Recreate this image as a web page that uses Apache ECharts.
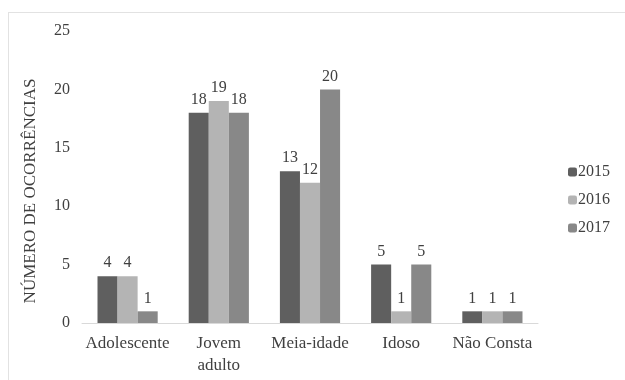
<!DOCTYPE html>
<html>
<head>
<meta charset="utf-8">
<script src="https://cdn.jsdelivr.net/npm/echarts@6/dist/echarts.min.js"></script>
<style>
  html, body { margin: 0; padding: 0; background: #fff; }
  #chart { width: 625px; height: 380px; }
  .frame { position: absolute; left: 8px; top: 12px; width: 640px; height: 400px; border: 1px solid #e2e2e2; box-sizing: border-box; pointer-events: none; }
</style>
</head>
<body>
<div id="chart"></div>
<div class="frame"></div>
<script>
  var categories = ['Adolescente', 'Jovem\nadulto', 'Meia-idade', 'Idoso', 'Não Consta']
  var years = ['2015', '2016', '2017']
  var values2015 = [4, 18, 13, 5, 1]
  var values2016 = [4, 19, 12, 1, 1]
  var values2017 = [1, 18, 20, 5, 1]
  var yTicks = [0, 5, 10, 15, 20, 25]

  var colors = ['#5f5f5f', '#b4b4b4', '#888888']
  var font = '"Liberation Serif", "DejaVu Serif", serif'

  var chart = echarts.init(document.getElementById('chart'))
  var makeSeries = function(name, data) {
    return {
      name: name,
      type: 'bar',
      data: data,
      barGap: '0%',
      barCategoryGap: '34%',
      label: {
        show: true,
        position: 'top',
        distance: 5,
        color: '#404040',
        fontFamily: font,
        fontSize: 16
      }
    }
  }

  chart.setOption({
    color: colors,
    animation: false,
    textStyle: { fontFamily: font },
    grid: { left: 82, right: 87, top: 31, bottom: 57 },
    legend: {
      orient: 'vertical',
      left: 563,
      top: 159,
      itemWidth: 9,
      itemHeight: 9,
      itemGap: 12,
      textStyle: { color: '#404040', fontFamily: font, fontSize: 16, padding: [0, 0, 0, -4] },
      data: years
    },
    xAxis: {
      type: 'category',
      data: categories,
      axisTick: { show: false },
      axisLine: { lineStyle: { color: '#d9d9d9', width: 1 } },
      axisLabel: {
        color: '#404040',
        fontFamily: font,
        fontSize: 17,
        margin: 10,
        lineHeight: 22,
        interval: 0
      }
    },
    yAxis: {
      type: 'value',
      min: yTicks[0],
      max: yTicks[yTicks.length - 1],
      interval: 5,
      name: 'NÚMERO DE OCORRÊNCIAS',
      nameLocation: 'middle',
      nameRotate: 90,
      nameGap: 43,
      nameTextStyle: { color: '#404040', fontFamily: font, fontSize: 17, padding: [0, 28, 0, 0] },
      axisLine: { show: false },
      axisTick: { show: false },
      splitLine: { show: false },
      axisLabel: { color: '#404040', fontFamily: font, fontSize: 16, margin: 12 }
    },
    series: [
      makeSeries(years[0], values2015),
      makeSeries(years[1], values2016),
      makeSeries(years[2], values2017)
    ]
  })
</script>
</body>
</html>
